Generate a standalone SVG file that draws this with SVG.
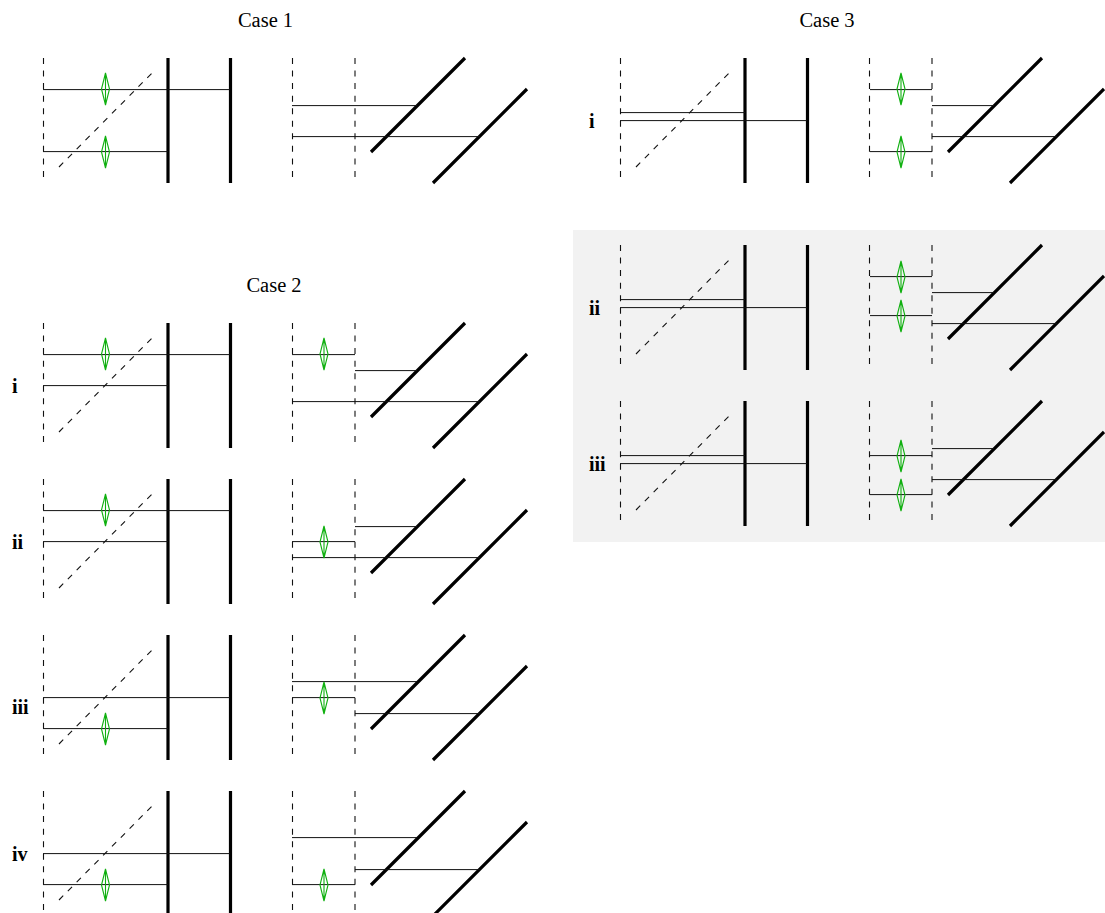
<svg xmlns="http://www.w3.org/2000/svg" xmlns:xlink="http://www.w3.org/1999/xlink" width="1105" height="913" viewBox="0 0 1105 913">
<style>
text{font-family:"Liberation Serif","Times New Roman",serif;fill:#000}
.t{font-size:20.5px;text-anchor:middle}
.r{font-size:20px;font-weight:bold}
.d{stroke:#111;stroke-width:1.1;stroke-dasharray:6 6.55;fill:none}
.k{stroke:#000;stroke-width:3.2;fill:none}
.l{stroke:#111;stroke-width:1;fill:none;transform:translateY(.6px)}
.g{stroke:#10b010;stroke-width:1.1;fill:none}
</style>
<defs>
<g id="base">
<path class="d" d="M43.500 58V177M292.500 58V177M355 58V177"/>
<path class="d" d="M59 167L152 73"/>
<path class="k" d="M168 58V183M230.500 58V183M371 152L465 58M433 183L527 89"/>
</g>
<g id="lens"><path class="g" d="M0-16L4 0L0 16L-4 0ZM0-16V16"/></g>
</defs>
<rect x="573" y="230" width="532" height="312" fill="#f2f2f2"/>
<text class="t" x="265.500" y="27">Case 1</text>
<text class="t" x="827" y="27">Case 3</text>
<text class="t" x="274" y="292">Case 2</text>
<g id="case1"><use xlink:href="#base"/>
<path class="l" d="M43 89H230M43 151H168M292 105H417M292 136H480"/>
<use xlink:href="#lens" x="105.500" y="89"/><use xlink:href="#lens" x="105.500" y="152"/></g>
<g id="case2-i"><text class="r" x="12" y="393">i</text><use xlink:href="#base" y="265"/>
<path class="l" d="M43 354H230M43 385H168M292 354H355M355 370H417M292 401H480"/>
<use xlink:href="#lens" x="105.500" y="354"/><use xlink:href="#lens" x="324" y="354"/></g>
<g id="case2-ii"><text class="r" x="12" y="549">ii</text><use xlink:href="#base" y="421"/>
<path class="l" d="M43 510H230M43 541H168M292 541H355M355 526H417M292 557H480"/>
<use xlink:href="#lens" x="105.500" y="510"/><use xlink:href="#lens" x="324" y="542"/></g>
<g id="case2-iii"><text class="r" x="12" y="714">iii</text><use xlink:href="#base" y="577"/>
<path class="l" d="M43 697H230M43 728H168M292 681H417M292 697H355M355 713H480"/>
<use xlink:href="#lens" x="105.500" y="729"/><use xlink:href="#lens" x="324" y="698"/></g>
<g id="case2-iv"><text class="r" x="12" y="861">iv</text><use xlink:href="#base" y="733"/>
<path class="l" d="M43 853H230M43 884H168M292 837H417M292 884H355M355 869H480"/>
<use xlink:href="#lens" x="105.500" y="885"/><use xlink:href="#lens" x="324" y="885"/></g>
<g id="case3-i"><text class="r" x="589" y="128">i</text><use xlink:href="#base" x="577"/>
<path class="l" d="M620 112H745M620 120H807M870 89H932M870 151H932M932 105H994M932 136H1057"/>
<use xlink:href="#lens" x="901" y="89"/><use xlink:href="#lens" x="901" y="152"/></g>
<g id="case3-ii"><text class="r" x="589" y="315">ii</text><use xlink:href="#base" x="577" y="187"/>
<path class="l" d="M620 299H745M620 307H807M870 276H932M870 315H932M932 292H994M932 323H1057"/>
<use xlink:href="#lens" x="901" y="277"/><use xlink:href="#lens" x="901" y="316"/></g>
<g id="case3-iii"><text class="r" x="589" y="471">iii</text><use xlink:href="#base" x="577" y="343"/>
<path class="l" d="M620 455H745M620 463H807M870 455H932M870 494H932M932 448H994M932 479H1057"/>
<use xlink:href="#lens" x="901" y="456"/><use xlink:href="#lens" x="901" y="495"/></g>
</svg>
